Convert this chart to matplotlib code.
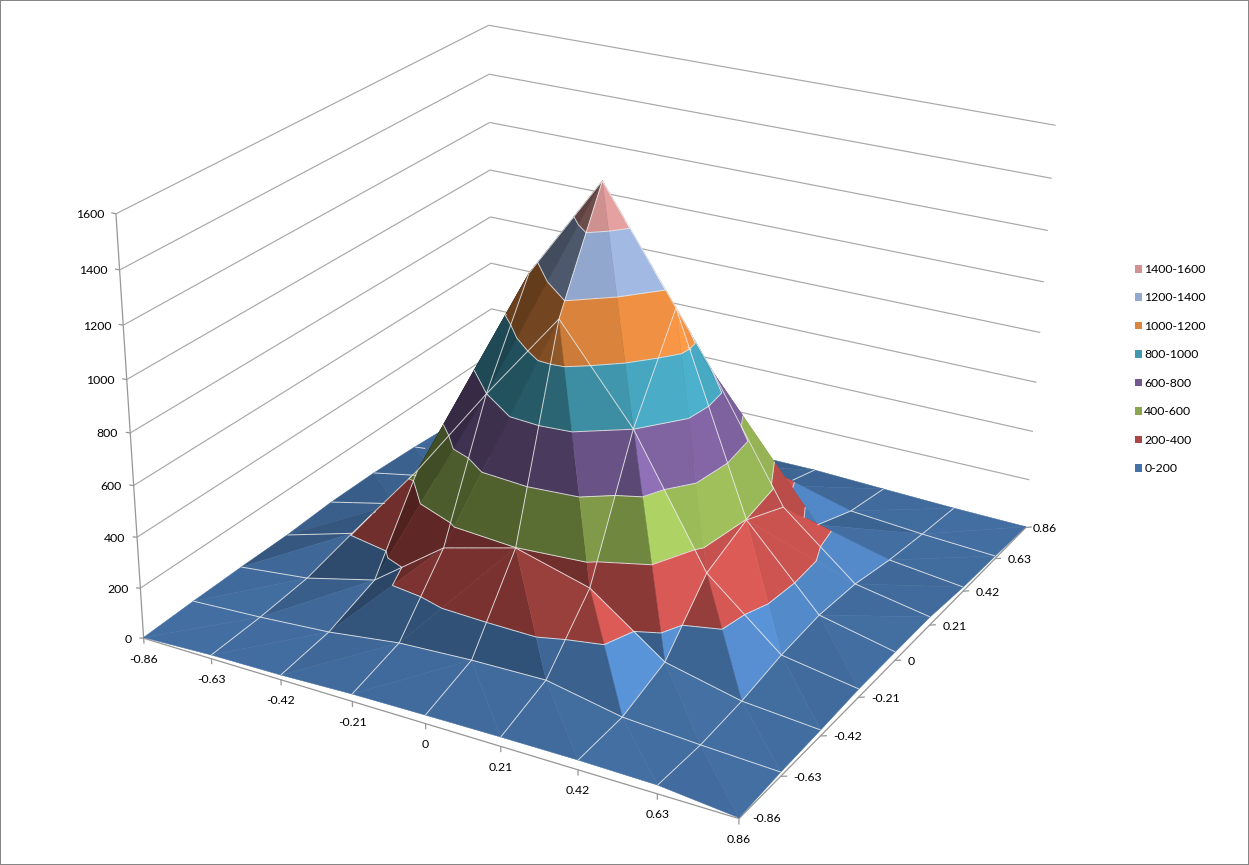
import numpy as np
import matplotlib
matplotlib.use('Agg')
import matplotlib.pyplot as plt
from matplotlib.patches import Patch
from mpl_toolkits.mplot3d.art3d import Poly3DCollection, Line3DCollection

# ---- data -------------------------------------------------------------
tick_labels = ['-0.86', '-0.63', '-0.42', '-0.21', '0', '0.21', '0.42', '0.63', '0.86']
z_ticks = [0, 200, 400, 600, 800, 1000, 1200, 1400, 1600]
band_labels = ['0-200', '200-400', '400-600', '600-800', '800-1000',
               '1000-1200', '1200-1400', '1400-1600']
band_colors = ['#4572A7', '#AA4643', '#89A54E', '#71588F', '#4198AF',
               '#DB843D', '#93A9CF', '#D19392']
row_0 = [3, 15, 19, 29, 33, 36, 37, 33, 3]
row_1 = [11, 26, 47, 85, 100, 106, 49, 30, 16]
row_2 = [16, 48, 118, 323, 399, 321, 115, 48, 23]
row_3 = [18, 100, 430, 799, 1147, 801, 322, 82, 33]
row_4 = [29, 95, 440, 1152, 1553, 1142, 398, 99, 34]
row_5 = [29, 85, 322, 800, 1147, 783, 321, 87, 33]
row_6 = [20, 50, 120, 322, 399, 322, 120, 51, 17]
row_7 = [6, 27, 50, 85, 100, 85, 50, 27, 11]
row_8 = [3, 12, 20, 25, 27, 27, 17, 8, 3]
Z = np.array([row_0, row_1, row_2, row_3, row_4, row_5, row_6, row_7, row_8], float)

# ---- camera of the reference (world: column, row, value/200) ------------
CAM = np.array([[62.9569116, 52.2066038, -4.231985, 138.8282367],
                [11.8499734, -20.8234285, -52.9082169, 616.8660751],
                [-0.0121481, 0.0205078, -0.0076475, 0.966561]])
CAM = CAM @ np.diag([1, 1, 1 / 200, 1])      # world z in data units
M4 = np.vstack([CAM[0], CAM[1], CAM[2] - np.array([0, 0, 0, 0.5]), CAM[2]])
_, _, Vt = np.linalg.svd(CAM)
cam_h = Vt[-1]
CAM_POS = cam_h[:3] / cam_h[3]

plt.rcParams['font.family'] = ['Lato', 'DejaVu Sans']
fig = plt.figure(figsize=(12.49, 8.65), dpi=100)
fig.patch.set_facecolor('white')
fig.patch.set_edgecolor('#868686')
fig.patch.set_linewidth(1.1)
ax = fig.add_axes([0, 0, 1, 1], projection='3d', computed_zorder=False)
ax.apply_aspect = lambda position=None: None
ax.get_proj = lambda: M4
ax.set_axis_off()
ax.patch.set_alpha(0)
ax.viewLim.intervalx = (0, 1249)
ax.viewLim.intervaly = (865, 0)

n = Z.shape[0]
levels = np.arange(0, 1801, 200)


def clip_band(tri, lo, hi):
    def clip(poly, level, keep_above):
        out = []
        m = len(poly)
        for k in range(m):
            a, b = poly[k], poly[(k + 1) % m]
            ina = a[2] >= level if keep_above else a[2] <= level
            inb = b[2] >= level if keep_above else b[2] <= level
            if ina:
                out.append(a)
            if ina != inb:
                t = (level - a[2]) / (b[2] - a[2])
                out.append(a + t * (b - a))
        return out
    poly = [np.asarray(p, float) for p in tri]
    poly = clip(poly, lo, True)
    if len(poly) >= 3:
        poly = clip(poly, hi, False)
    return poly


def shade(tri, base):
    a, b, c = [np.array([p[0], p[1], p[2] / 270.0]) for p in tri]
    nrm = np.cross(b - a, c - a)
    nrm = nrm / np.linalg.norm(nrm)
    if nrm[2] < 0:
        nrm = -nrm
    nx, ny, nz = nrm
    s = 1.19 + 0.355 * nx - 0.19 * nz
    if ny < -0.35:
        s += 0.556 * ny
    else:
        s += 0.556 * -0.35 - 0.52 * (min(ny, 0) + 0.35)
    s += 1.45 * max(nx - 0.18, 0) * nz ** 4
    s -= 1.0 * max(0, -nx - 0.55)
    s += 0.16 * nz ** 2
    # almost flat facets stay close to the plain band colour
    tilt = np.hypot(nx, ny)
    s = 1 + (s - 1) * min(1.0, tilt / 0.4)
    return np.clip(np.array(matplotlib.colors.to_rgb(base)) * s, 0, 1)


tris = []
for j in range(n - 1):
    for i in range(n - 1):
        p = lambda ii, jj: (ii, jj, Z[jj, ii])
        # the facet diagonal of every cell runs towards the centre of the grid
        if (i < 4) == (j < 4):
            tris.append((p(i, j), p(i + 1, j), p(i + 1, j + 1)))
            tris.append((p(i, j), p(i + 1, j + 1), p(i, j + 1)))
        else:
            tris.append((p(i, j), p(i + 1, j), p(i, j + 1)))
            tris.append((p(i + 1, j), p(i + 1, j + 1), p(i, j + 1)))

polys, cols = [], []
segs = []
for tri in tris:
    for b in range(len(band_colors)):
        lo, hi = levels[b], levels[b + 1]
        poly = clip_band(tri, lo, hi)
        if len(poly) >= 3:
            polys.append(np.array(poly))
            cols.append(shade(tri, band_colors[b]))
    # contour chords
    for lev in levels[1:9]:
        pts = []
        for k in range(3):
            a, b_ = np.array(tri[k], float), np.array(tri[(k + 1) % 3], float)
            if (a[2] - lev) * (b_[2] - lev) < 0:
                pts.append(a + (lev - a[2]) / (b_[2] - a[2]) * (b_ - a))
        if len(pts) == 2:
            segs.append((pts[0], pts[1]))

# grid lines of the surface
for j in range(n):
    for i in range(n - 1):
        if j not in (0, n - 1):
            segs.append((np.array([i, j, Z[j, i]], float), np.array([i + 1, j, Z[j, i + 1]], float)))
for i in range(n):
    for j in range(n - 1):
        if i not in (0, n - 1):
            segs.append((np.array([i, j, Z[j, i]], float), np.array([i, j + 1, Z[j + 1, i]], float)))

TRI = np.array(tris, float)


def occluded(pt):
    # ray from point to camera, Moller-Trumbore against all facets
    d = CAM_POS - pt
    v0 = TRI[:, 0]
    e1 = TRI[:, 1] - v0
    e2 = TRI[:, 2] - v0
    h = np.cross(np.broadcast_to(d, e2.shape), e2)
    a = np.einsum('ij,ij->i', e1, h)
    ok = np.abs(a) > 1e-9
    f = np.zeros_like(a)
    f[ok] = 1 / a[ok]
    s = pt - v0
    u = f * np.einsum('ij,ij->i', s, h)
    q = np.cross(s, e1)
    v = f * np.einsum('ij,j->i', q, d)
    t = f * np.einsum('ij,ij->i', e2, q)
    return np.any(ok & (u > 1e-3) & (v > 1e-3) & (u + v < 1 - 1e-3) & (t > 1e-3))


vis = []
for a, b in segs:
    m = 6
    for k in range(m):
        p0 = a + (b - a) * k / m
        p1 = a + (b - a) * (k + 1) / m
        mid = (p0 + p1) / 2
        if not occluded(mid):
            vis.append((p0, p1))

# ---- walls and axes ---------------------------------------------------
wall = []
for z in z_ticks[1:]:
    wall.append(((0, 0, z), (0, 8, z)))
    wall.append(((0, 8, z), (8, 8, z)))
ax.add_collection3d(Line3DCollection(wall, colors='#A8A8A8', linewidths=0.85, zorder=1))
axes_lines = [((0, 0, 0), (0, 0, 1600)), ((0, 0, 0), (8, 0, 0)), ((8, 0, 0), (8, 8, 0))]
for z in z_ticks:
    axes_lines.append(((0, 0, z), (0, -0.08, z + 12)))
for i in range(9):
    axes_lines.append(((i, 0, 0), (i, 0, -22)))
for j in range(1, 9):
    axes_lines.append(((8, j, 0), (8.08, j, 8)))
ax.add_collection3d(Line3DCollection(axes_lines, colors='#969696', linewidths=0.9, zorder=1.5))

surface = Poly3DCollection(polys, facecolors=cols, edgecolors=cols, linewidths=0.35, zorder=2)
ax.add_collection3d(surface)
mesh = Line3DCollection(vis, colors='#EDEDED', linewidths=0.7, alpha=0.85, zorder=3)
ax.add_collection3d(mesh)


def project(x, y, z):
    h = CAM @ np.array([x, y, z, 1.0])
    return h[0] / h[2], h[1] / h[2]


font_px = 12.2
fs = font_px * 72 / 100
for i, lab in enumerate(tick_labels):
    ax.annotate(lab, xy=project(i, 0, 0), xytext=(0, -21), textcoords='offset pixels',
                ha='center', va='center', fontsize=fs, color='black', zorder=5)
    ax.annotate(lab, xy=project(8, i, 0), xytext=(13 if i < 8 else 7, -1 if i else 0),
                textcoords='offset pixels', ha='left', va='center', fontsize=fs, color='black', zorder=5)
for z in z_ticks:
    ax.annotate(str(z), xy=project(0, 0, z), xytext=(-12, -1), textcoords='offset pixels',
                ha='right', va='center', fontsize=fs, color='black', zorder=5)

handles = [Patch(facecolor=c, edgecolor='none', label=l) for c, l in zip(band_colors, band_labels)][::-1]
leg = fig.legend(handles=handles, loc='upper left', bbox_to_anchor=(1134.5 / 1249, 1 - 264 / 865),
                 frameon=False, fontsize=fs, handlelength=0.6, handleheight=0.6,
                 handletextpad=0.2, labelspacing=1.43, borderpad=0, borderaxespad=0)

fig.savefig('out.png', dpi=100, facecolor='white', edgecolor='#868686')
